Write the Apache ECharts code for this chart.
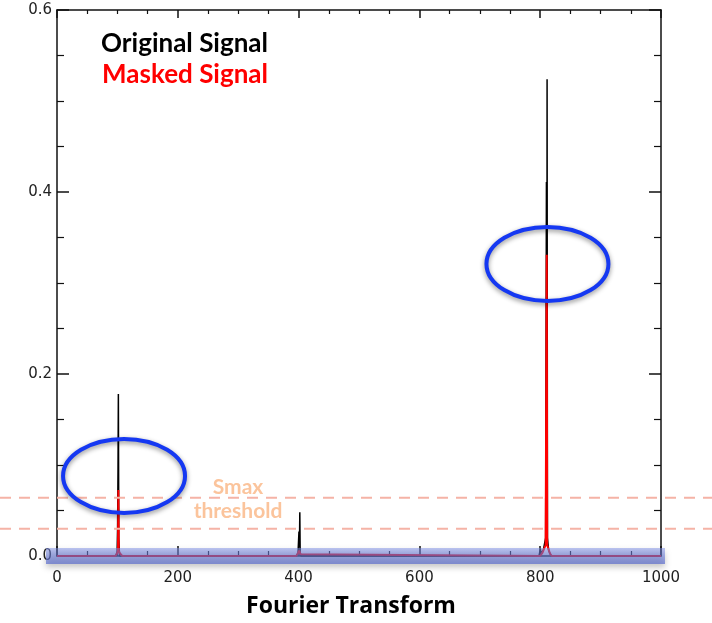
<!DOCTYPE html>
<html>
<head>
<meta charset="utf-8">
<script src="https://cdn.jsdelivr.net/npm/echarts/dist/echarts.min.js"></script>
<style>
  html, body { margin: 0; padding: 0; background: #fff; }
  #chart { width: 712px; height: 623px; }
</style>
</head>
<body>
<div id="chart"></div>
<script>
// 原始信号 (black)
var origX = [0, 97, 99.5, 100.3, 101, 101.6, 102.3, 103.5, 396, 399, 400.6, 401.4, 402, 402.6, 404, 798, 800.5, 801, 801.5, 805, 809, 810.3, 811, 811.4, 812, 814, 818, 1000];
var origY = [0, 0, 0.004, 0.03, 0.094, 0.178, 0.02, 0, 0, 0.003, 0.027, 0.01, 0.048, 0.004, 0, 0, 0.008, 0.001, 0.004, 0.006, 0.02, 0.411, 0.03, 0.524, 0.02, 0.006, 0, 0];
// 掩蔽后信号 (red)
var maskX = [0, 97, 99.5, 101, 101.6, 102.2, 104, 108, 396, 399, 401, 403, 406, 800, 804, 807, 809, 810.8, 811.6, 813, 816, 819, 1000];
var maskY = [0, 0, 0.003, 0.006, 0.0725, 0.006, 0.003, 0, 0, 0.003, 0.006, 0.002, 0, 0, 0.004, 0.009, 0.012, 0.331, 0.012, 0.01, 0.003, 0, 0];
// dashed threshold levels
var thresholds = [0.064, 0.030];
// circled peaks (data coords)
var circleX = [111, 812];
var circleY = [0.088, 0.321];

var xTicks = { min: 0, max: 1000, interval: 200 };
var yTicks = { min: 0, max: 0.6, interval: 0.2 };

function zip(a, b) {
  return a.map(function (v, i) { return [v, b[i]]; });
}

var chart = echarts.init(document.getElementById("chart"));

var lineCol = "#111";
function xAxisOpt(pos, showLabel) {
  return {
    type: "value",
    position: pos,
    min: xTicks.min, max: xTicks.max, interval: xTicks.interval,
    axisLine: { show: true, onZero: false, lineStyle: { color: lineCol, width: 1.5 } },
    axisTick: { show: true, inside: true, length: showLabel ? 10 : 8, lineStyle: { color: lineCol, width: 1.5 } },
    minorTick: { show: true, splitNumber: 4, length: showLabel ? 5 : 4, lineStyle: { color: lineCol, width: 1.2 } },
    splitLine: { show: false },
    axisLabel: {
      show: showLabel, margin: 15, fontFamily: "DejaVu Sans", fontSize: 15, color: "#222",
      formatter: function (v) { return String(v); }
    }
  };
}
function yAxisOpt(pos, showLabel) {
  return {
    type: "value",
    position: pos,
    min: yTicks.min, max: yTicks.max, interval: yTicks.interval,
    axisLine: { show: true, onZero: false, lineStyle: { color: lineCol, width: 1.5 } },
    axisTick: { show: true, inside: true, length: 12, lineStyle: { color: lineCol, width: 1.5 } },
    minorTick: { show: true, splitNumber: 4, length: 7, lineStyle: { color: lineCol, width: 1.2 } },
    splitLine: { show: false },
    axisLabel: {
      show: showLabel, margin: 5, fontFamily: "DejaVu Sans", fontSize: 15, color: "#222",
      formatter: function (v) { return v.toFixed(1); }
    }
  };
}

chart.setOption({
  animation: false,
  backgroundColor: "#fff",
  grid: { left: 57, right: 51, top: 10, bottom: 67 },
  xAxis: [xAxisOpt("bottom", true), xAxisOpt("top", false)],
  yAxis: [yAxisOpt("left", true), yAxisOpt("right", false)],
  series: [
    {
      name: "Original Signal",
      type: "line",
      showSymbol: false,
      data: zip(origX, origY),
      lineStyle: { color: "#000", width: 1.5 },
      z: 3
    },
    {
      name: "Masked Signal",
      type: "line",
      showSymbol: false,
      data: zip(maskX, maskY),
      lineStyle: { color: "#ff0000", width: 2 },
      z: 4
    }
  ]
});

// overlay: band, threshold lines, circles, texts
function px(x, y) {
  return chart.convertToPixel({ gridIndex: 0 }, [x, y]);
}
var p0 = px(xTicks.min, 0);
var p1 = px(xTicks.max, 0);
var graphics = [];

thresholds.forEach(function (t) {
  var yy = px(0, t)[1];
  graphics.push({
    type: "line", z: 5,
    shape: { x1: 0, y1: yy, x2: 712, y2: yy },
    style: { stroke: "#f5b3a6", lineWidth: 2, lineDash: [11, 8] }
  });
});

var tHi = px(0, thresholds[0])[1];
var tLo = px(0, thresholds[1])[1];
graphics.push({
  type: "text", z: 6, x: 238, y: tHi - 11,
  style: { text: "Smax", fill: "#fbc49c", font: "bold 21px Lato", textAlign: "center", textVerticalAlign: "middle" }
});
graphics.push({
  type: "text", z: 6, x: 238, y: (tHi + tLo) / 2 - 2,
  style: { text: "threshold", fill: "#fbc49c", font: "bold 21px Lato", textAlign: "center", textVerticalAlign: "middle" }
});

graphics.push({
  type: "rect", z: 10,
  shape: { x: p0[0] - 11, y: p0[1] - 8, width: p1[0] - p0[0] + 15, height: 16 },
  style: {
    fill: new echarts.graphic.LinearGradient(0, 0, 0, 1, [
      { offset: 0, color: "rgba(125,142,230,0.5)" },
      { offset: 1, color: "rgba(90,108,205,0.7)" }
    ]),
    shadowBlur: 6, shadowOffsetY: 3, shadowColor: "rgba(0,0,0,0.35)"
  }
});

circleX.forEach(function (cx, i) {
  var c = px(cx, circleY[i]);
  graphics.push({
    type: "ellipse", z: 8,
    shape: { cx: c[0], cy: c[1], rx: 61, ry: 37 },
    style: {
      fill: "none", stroke: "#1538f2", lineWidth: 4,
      shadowBlur: 5, shadowOffsetY: 2, shadowColor: "rgba(0,0,0,0.45)"
    }
  });
});

graphics.push({
  type: "text", z: 6, x: 268, y: 44,
  style: { text: "Original Signal", fill: "#000", font: "bold 26px Lato", textAlign: "right", textVerticalAlign: "middle" }
});
graphics.push({
  type: "text", z: 6, x: 268, y: 75,
  style: { text: "Masked Signal", fill: "#ff0000", font: "bold 26px Lato", textAlign: "right", textVerticalAlign: "middle" }
});
graphics.push({
  type: "text", z: 6, x: 351, y: 606,
  style: { text: "Fourier Transform", fill: "#000", font: "bold 23px 'Open Sans'", textAlign: "center", textVerticalAlign: "middle" }
});

chart.setOption({ graphic: graphics });
</script>
</body>
</html>
